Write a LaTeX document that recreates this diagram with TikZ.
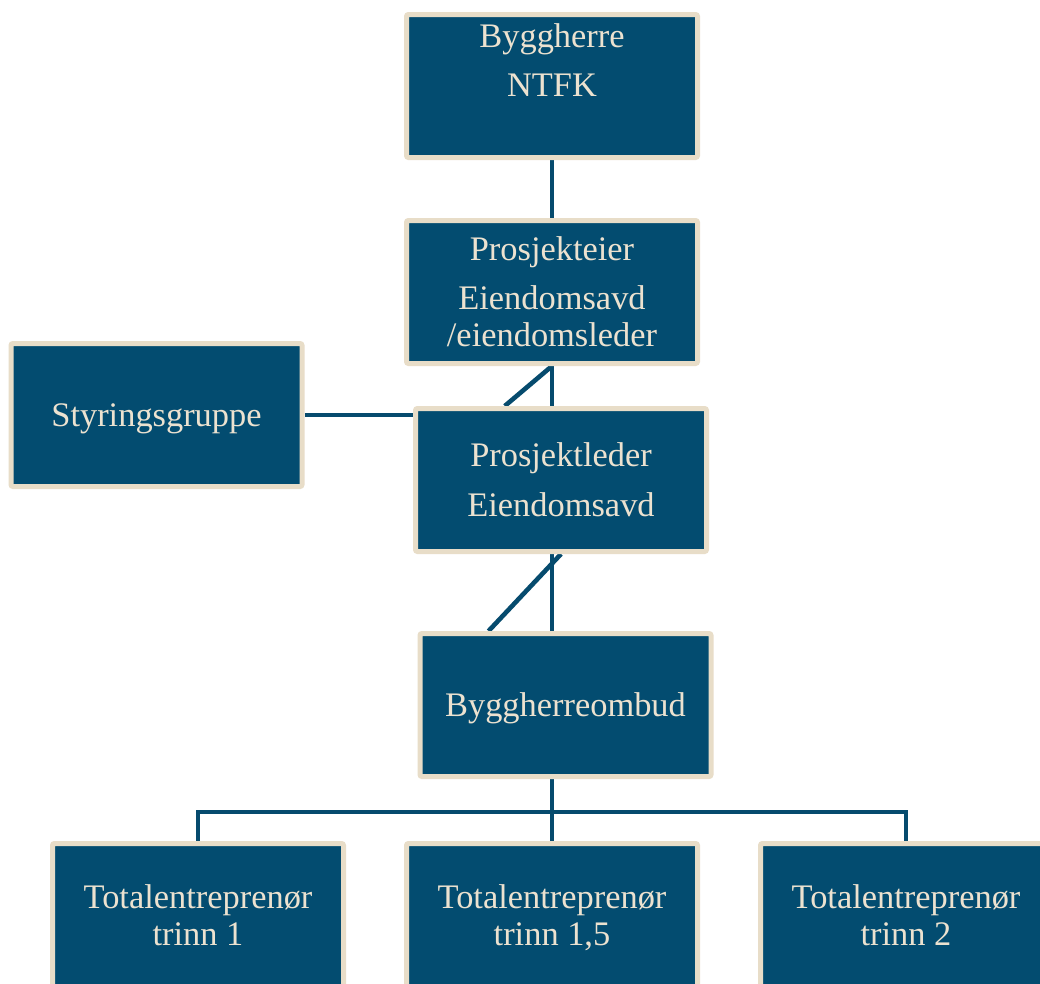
\documentclass[tikz,border=0pt]{standalone}
\usepackage{fontspec}
\setmainfont{Liberation Serif}
\usetikzlibrary{calc,backgrounds}
\definecolor{boxblue}{RGB}{3,76,112}
\definecolor{boxedge}{RGB}{232,221,200}
\definecolor{boxtext}{RGB}{236,226,208}
\definecolor{linkblue}{RGB}{6,75,110}
\newcommand\tstrut{\rule{0pt}{31.5pt}}
\begin{document}
\begin{tikzpicture}[x=1pt,y=-1pt,
  orgbox/.style={draw=boxedge, line width=5pt, fill=boxblue, rounded corners=2pt,
    minimum width=291pt, minimum height=143pt, inner sep=0pt,
    text=boxtext, align=center, font=\fontsize{34.4}{37}\selectfont,
    execute at end node={\rule[-8pt]{0pt}{0pt}}},
  link/.style={draw=linkblue, line width=4.6pt}]
\clip (0,0) rectangle (1040,983);
\useasboundingbox (0,0) rectangle (1040,983);
\coordinate (axis) at (552,0);
\coordinate (bus) at (552,812);
\node[orgbox] (bh)  at (552,86)    {\tstrut Byggherre\\[12pt]NTFK\\[12pt]\strut};
\node[orgbox] (pe)  at (552,292)   {\tstrut Prosjekteier\\[12pt]Eiendomsavd\\/eiendomsleder};
\node[orgbox] (sg)  at (156.5,415) {\tstrut Styringsgruppe};
\node[orgbox] (pl)  at (561,480)   {\tstrut Prosjektleder\\[13pt]Eiendomsavd};
\node[orgbox] (bo)  at (565.5,705) {\tstrut Byggherreombud};
\node[orgbox] (t1)  at (198,915)   {\tstrut Totalentreprenør\\trinn 1};
\node[orgbox] (t15) at (552,915)   {\tstrut Totalentreprenør\\trinn 1,5};
\node[orgbox] (t2)  at (906,915)   {\tstrut Totalentreprenør\\trinn 2};
\begin{scope}[on background layer]
\fill[white] (0,0) rectangle (1040,983);
\draw[link] (bh.south) -- (pe.north);
\draw[link] (pe.south) -- (pl.north -| axis);
\draw[link] (pe.south) -- ($(pl.north west)!0.31!(pl.north east)$);
\draw[link] (sg.east) -- (sg.east -| pl.west);
\draw[link] (pl.south -| axis) -- (bo.north -| axis);
\draw[link] (pl.south) -- ($(bo.north west)!0.24!(bo.north east)$);
\draw[link] (bo.south -| axis) -- (t15.north);
\draw[link] (t1.north) |- (bus) -| (t2.north);
\end{scope}
\end{tikzpicture}
\end{document}
